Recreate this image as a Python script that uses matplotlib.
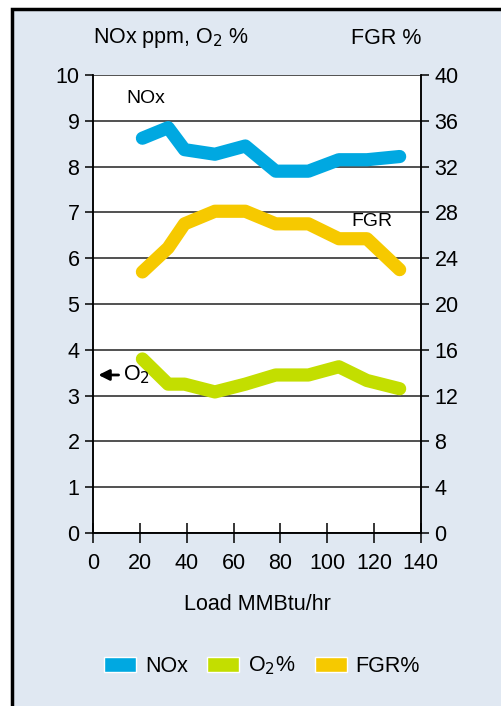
import matplotlib
matplotlib.use('Agg')
import matplotlib.pyplot as plt
from matplotlib import font_manager
from matplotlib.patches import Rectangle, Patch
from matplotlib.lines import Line2D


# data
load = [21, 32, 39, 52, 65, 78, 92, 105, 117, 131]
nox = [8.62, 8.85, 8.37, 8.27, 8.45, 7.90, 7.90, 8.15, 8.15, 8.22]
o2 = [3.80, 3.25, 3.25, 3.08, 3.25, 3.45, 3.45, 3.63, 3.33, 3.15]
fgr = [22.8, 24.9, 27.0, 28.1, 28.1, 27.0, 27.0, 25.7, 25.7, 23.0]

x_ticks = [0, 20, 40, 60, 80, 100, 120, 140]
left_ticks = list(range(0, 11))
right_ticks = list(range(0, 41, 4))

BG = '#e0e8f2'
NOX_C = '#00a8e1'
O2_C = '#c3de00'
FGR_C = '#f6c900'

names = [f.name for f in font_manager.fontManager.ttflist]
if 'Liberation Sans Narrow' in names:
    FONT = 'Liberation Sans Narrow'
    FS = 16.5
else:
    FONT = 'Liberation Sans'
    FS = 15.5
plt.rcParams['font.family'] = [FONT, 'DejaVu Sans']

W, H = 502, 706
fig = plt.figure(figsize=(W / 100, H / 100), dpi=100, facecolor='white')

# panel background and frame (left and top edges only)
fig.patches.append(Rectangle((12 / W, 0), 1, 1 - 9 / H, transform=fig.transFigure,
                             facecolor=BG, edgecolor='none', zorder=-5))
fig.lines.append(Line2D([12 / W, 12 / W, 1], [0, 1 - 9 / H, 1 - 9 / H],
                        transform=fig.transFigure, color='black', lw=2.5,
                        solid_joinstyle='miter', zorder=-4))

ax = fig.add_axes([93.3 / W, 1 - 533 / H, (420.7 - 93.3) / W, (533 - 75) / H])
ax.set_facecolor('white')
ax2 = ax.twinx()

ax.set_xlim(0, 140)
ax.set_ylim(0, 10)
ax2.set_ylim(0, 40)

ax.set_xticks(x_ticks)
ax.set_yticks(left_ticks)
ax2.set_yticks(right_ticks)
ax.grid(axis='y', color='#222222', lw=1.1)
ax.set_axisbelow(True)

for a in (ax, ax2):
    for s in a.spines.values():
        s.set_linewidth(1.1)
    a.spines['top'].set_visible(False)

ax.tick_params(axis='x', direction='inout', length=15, width=1.1, labelsize=FS, pad=7)
ax.tick_params(axis='y', direction='out', length=6, width=1.1, labelsize=FS, pad=4)
ax2.tick_params(axis='y', direction='out', length=6, width=1.1, labelsize=FS, pad=4)

lw = 9.5
ax.plot(load, nox, color=NOX_C, lw=lw, solid_capstyle='round', solid_joinstyle='round', zorder=3)
ax.plot(load, o2, color=O2_C, lw=lw, solid_capstyle='round', solid_joinstyle='round', zorder=3)
ax2.plot(load, fgr, color=FGR_C, lw=lw, solid_capstyle='round', solid_joinstyle='round', zorder=3)

# in-chart labels
ax.text(14.3, 9.48, 'NOx', fontsize=FS * 0.9, va='center', ha='left')
ax.text(110.5, 6.8, 'FGR', fontsize=FS * 0.9, va='center', ha='left')
ax.annotate('', xy=(1.0, 3.45), xytext=(12.0, 3.45),
            arrowprops=dict(arrowstyle='-|>', color='black', lw=2, mutation_scale=16))
ax.text(12.6, 3.45, 'O$_2$', fontsize=FS, va='center', ha='left')

ax.set_xlabel('Load MMBtu/hr', fontsize=FS, labelpad=14)

fig.text(93 / W, 1 - 38 / H, 'NOx ppm, O$_2$ %', fontsize=FS, ha='left', va='center')
fig.text(421 / W, 1 - 38 / H, 'FGR %', fontsize=FS, ha='right', va='center')

handles = [Patch(facecolor=NOX_C, edgecolor='white', lw=1),
           Patch(facecolor=O2_C, edgecolor='white', lw=1),
           Patch(facecolor=FGR_C, edgecolor='white', lw=1)]
fig.legend(handles, ['NOx', 'O$_2$%', 'FGR%'], loc='center', bbox_to_anchor=(262 / W, 1 - 666 / H),
           ncol=3, frameon=False, fontsize=FS, handlelength=1.5, handleheight=0.7,
           handletextpad=0.4, columnspacing=0.9)

fig.savefig('out.png', dpi=100, facecolor='white')
